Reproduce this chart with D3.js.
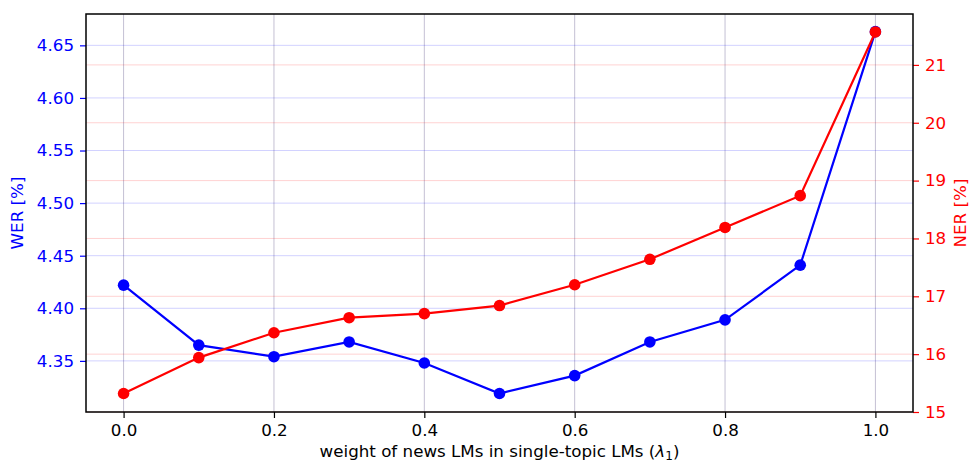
<!DOCTYPE html>
<html>
<head>
<meta charset="utf-8">
<script src="https://cdn.jsdelivr.net/npm/d3@7"></script>
<style>
  body { margin: 0; background: #fff; }
  text { font-family: "DejaVu Sans", sans-serif; }
</style>
</head>
<body>
<div id="chart"></div>
<script>
// data
const lambdas = [0.0, 0.1, 0.2, 0.3, 0.4, 0.5, 0.6, 0.7, 0.8, 0.9, 1.0];
const wer = [4.422, 4.365, 4.354, 4.368, 4.348, 4.319, 4.336, 4.368, 4.389, 4.441, 4.663];
const ner = [15.32, 15.94, 16.37, 16.63, 16.70, 16.84, 17.20, 17.64, 18.19, 18.74, 21.57];
const xTicks = [0.0, 0.2, 0.4, 0.6, 0.8, 1.0];
const werTicks = [4.35, 4.40, 4.45, 4.50, 4.55, 4.60, 4.65];
const nerTicks = [15, 16, 17, 18, 19, 20, 21];

const W = 971, H = 465;
const m = {top: 14, right: 58, bottom: 53, left: 86};
const fs = "16.7px";

const svg = d3.select("#chart").append("svg")
    .attr("width", W).attr("height", H);

const x = d3.scaleLinear().domain([-0.05, 1.05]).range([m.left, W - m.right]);
const yL = d3.scaleLinear().domain([4.3014, 4.6798]).range([H - m.bottom, m.top]);
const yR = d3.scaleLinear().domain([15.0, 21.88]).range([H - m.bottom, m.top]);

// grid lines
const grid = svg.append("g");
grid.selectAll(".vg").data(xTicks).enter().append("line")
  .attr("x1", d => x(d)).attr("x2", d => x(d))
  .attr("y1", m.top).attr("y2", H - m.bottom)
  .attr("stroke", "#c4c0d4").attr("stroke-width", 1);
grid.selectAll(".bg").data(werTicks).enter().append("line")
  .attr("x1", m.left).attr("x2", W - m.right)
  .attr("y1", d => yL(d)).attr("y2", d => yL(d))
  .attr("stroke", "blue").attr("stroke-opacity", 0.18).attr("stroke-width", 1);
grid.selectAll(".rg").data(nerTicks).enter().append("line")
  .attr("x1", m.left).attr("x2", W - m.right)
  .attr("y1", d => yR(d)).attr("y2", d => yR(d))
  .attr("stroke", "red").attr("stroke-opacity", 0.18).attr("stroke-width", 1);

// series
function series(vals, y, col) {
  const line = d3.line().x((d, i) => x(lambdas[i])).y(d => y(d));
  svg.append("path").datum(vals)
    .attr("d", line).attr("fill", "none")
    .attr("stroke", col).attr("stroke-width", 2.2);
  svg.append("g").selectAll("circle").data(vals).enter().append("circle")
    .attr("cx", (d, i) => x(lambdas[i])).attr("cy", d => y(d))
    .attr("r", 5.8).attr("fill", col);
}
series(wer, yL, "blue");
series(ner, yR, "red");

// axes
const xAxis = svg.append("g").attr("transform", `translate(0,${H - m.bottom})`)
  .call(d3.axisBottom(x).tickValues(xTicks).tickFormat(d3.format(".1f")).tickSizeOuter(0).tickSize(6).tickPadding(6));
xAxis.selectAll("text").attr("fill", "black").style("font-size", fs);
xAxis.selectAll(".tick line").attr("stroke", "black").attr("stroke-width", 1.2);

const lAxis = svg.append("g").attr("transform", `translate(${m.left},0)`)
  .call(d3.axisLeft(yL).tickValues(werTicks).tickFormat(d3.format(".2f")).tickSizeOuter(0).tickSize(6).tickPadding(6));
lAxis.selectAll("text").attr("fill", "blue").style("font-size", fs);
lAxis.selectAll(".tick line").attr("stroke", "blue").attr("stroke-width", 1.2);

const rAxis = svg.append("g").attr("transform", `translate(${W - m.right},0)`)
  .call(d3.axisRight(yR).tickValues(nerTicks).tickFormat(d3.format("d")).tickSizeOuter(0).tickSize(6).tickPadding(6));
rAxis.selectAll("text").attr("fill", "red").style("font-size", fs);
rAxis.selectAll(".tick line").attr("stroke", "red").attr("stroke-width", 1.2);

svg.selectAll(".domain").remove();

// frame
svg.append("rect")
  .attr("x", m.left).attr("y", m.top)
  .attr("width", W - m.left - m.right).attr("height", H - m.top - m.bottom)
  .attr("fill", "none").attr("stroke", "black").attr("stroke-width", 1.5);

// labels
const xl = svg.append("text")
  .attr("x", (m.left + W - m.right) / 2).attr("y", 457)
  .attr("text-anchor", "middle").style("font-size", fs).attr("fill", "black");
xl.append("tspan").text("weight of news LMs in single-topic LMs (");
xl.append("tspan").style("font-style", "italic").text("λ");
xl.append("tspan").attr("dy", 3).style("font-size", "12px").text("1");
xl.append("tspan").attr("dy", -3).text(")");

svg.append("text")
  .attr("transform", `translate(23,${(m.top + H - m.bottom) / 2}) rotate(-90)`)
  .attr("text-anchor", "middle").style("font-size", fs).attr("fill", "blue")
  .text("WER [%]");
svg.append("text")
  .attr("transform", `translate(966,${(m.top + H - m.bottom) / 2}) rotate(-90)`)
  .attr("text-anchor", "middle").style("font-size", fs).attr("fill", "red")
  .text("NER [%]");
</script>
</body>
</html>
